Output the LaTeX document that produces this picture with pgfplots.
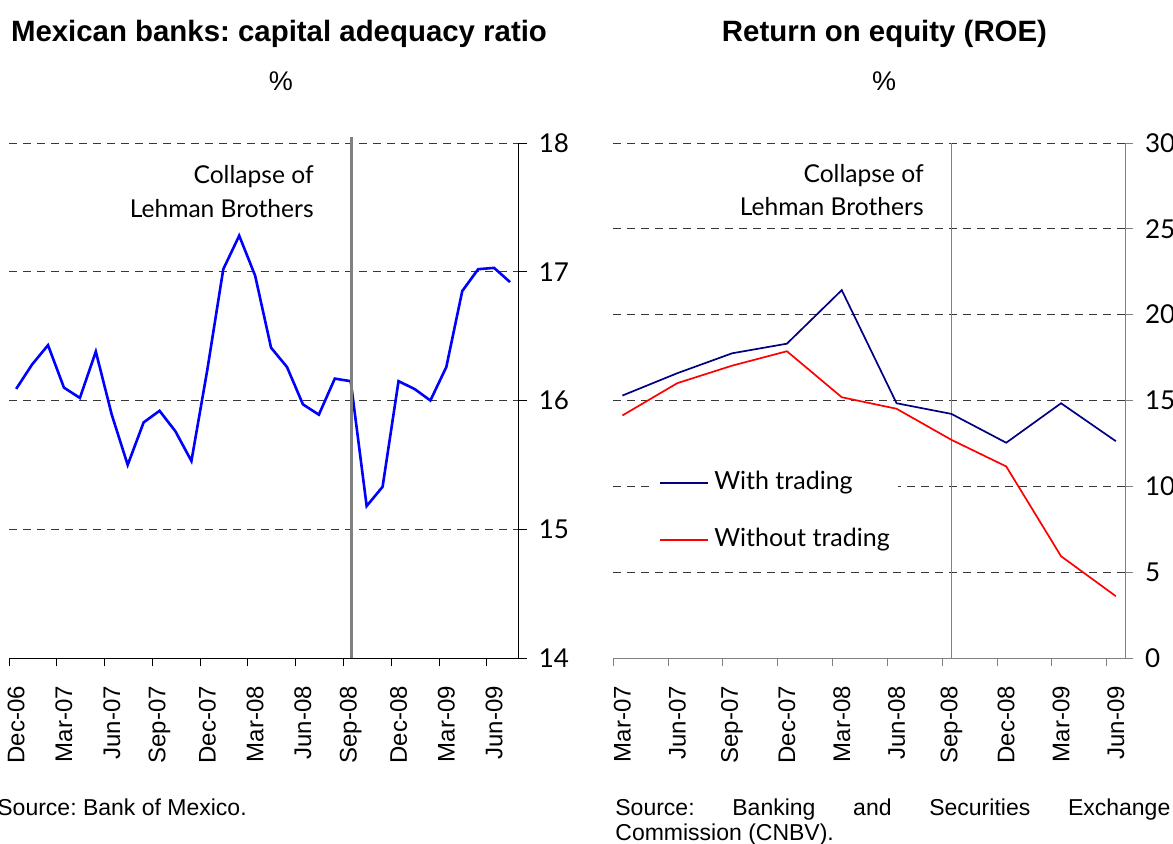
\documentclass[border=0pt]{standalone}
\usepackage{fontspec}
\setmainfont{Liberation Sans}
\newfontfamily\lato{Lato}
\usepackage{pgfplots}
\pgfplotsset{compat=1.18}
\frenchspacing

\definecolor{gridgray}{HTML}{383838}
\definecolor{vgray}{HTML}{808080}
\definecolor{navy}{HTML}{000080}

\pgfplotsset{
  panel/.style={
    scale only axis,
    height=257.5pt,
    ymajorgrids,
    grid style={draw=gridgray, line width=0.5pt, dash pattern=on 4pt off 3pt},
    axis x line*=bottom,
    axis y line*=right,
    tick align=outside,
    major tick length=4pt,
    xticklabels={},
    extra x tick style={grid=none, major tick length=0pt,
      xticklabel shift=10.5pt,
      xticklabel style={rotate=90, anchor=east, font=\fontsize{12}{12}\selectfont}},
    extra y tick style={grid=none},
    yticklabel style={font=\lato\fontsize{13}{13}\selectfont, xshift=2.5pt},
    clip=false,
  },
}

\begin{document}
\begin{tikzpicture}
\useasboundingbox (0,0) rectangle (586.5pt,421.5pt);

%% ---------- left panel: capital adequacy ----------
\begin{axis}[
  panel,
  at={(4.5pt,92.5pt)}, anchor=south west,
  width=254.9pt,
  xmin=0, xmax=32,
  ymin=14, ymax=18,
  ytick={15,16,17,18},
  yticklabels={15,16,17,18},
  extra y ticks={14},
  extra y tick labels={14},
  xtick={0,3,...,30},
  extra x ticks={0.45,3.45,...,30.45},
  extra x tick labels={Dec-06,Mar-07,Jun-07,Sep-07,Dec-07,Mar-08,Jun-08,Sep-08,Dec-08,Mar-09,Jun-09},
  axis line style={draw=black, line width=0.5pt},
  tick style={draw=black, line width=0.5pt},
]
\addplot[blue, line width=1.3pt] coordinates {
  (0.45,16.09) (1.45,16.28) (2.45,16.43) (3.45,16.10) (4.45,16.02)
  (5.45,16.38) (6.45,15.89) (7.45,15.50) (8.45,15.83) (9.45,15.92)
  (10.45,15.76) (11.45,15.53) (12.45,16.24) (13.45,17.02) (14.45,17.28)
  (15.45,16.97) (16.45,16.41) (17.45,16.26) (18.45,15.97) (19.45,15.89)
  (20.45,16.17) (21.45,16.15) (22.45,15.18) (23.45,15.33) (24.45,16.15)
  (25.45,16.09) (26.45,16.00) (27.45,16.26) (28.45,16.85) (29.45,17.02)
  (30.45,17.03) (31.45,16.92)
};
% collapse of Lehman Brothers
\addplot[vgray, line width=1.5pt] coordinates {(21.5,14) (21.5,18.05)};
\end{axis}

%% ---------- right panel: ROE ----------
\begin{axis}[
  panel,
  at={(306.65pt,92.5pt)}, anchor=south west,
  width=255.85pt,
  xmin=0, xmax=28,
  ymin=0, ymax=30,
  ytick={5,10,15,20,25,30},
  yticklabels={5,10,15,20,25,30},
  extra y ticks={0},
  extra y tick labels={0},
  xtick={0,3,...,27},
  extra x ticks={0.5,3.5,...,27.5},
  extra x tick labels={Mar-07,Jun-07,Sep-07,Dec-07,Mar-08,Jun-08,Sep-08,Dec-08,Mar-09,Jun-09},
  axis line style={draw=vgray, line width=0.5pt},
  tick style={draw=vgray, line width=0.5pt},
  legend style={
    at={(axis description cs:0.078,0.378)}, anchor=north west,
    draw=none, fill=white, inner sep=3pt,
    row sep=15pt,
    nodes={inner sep=1pt, text height=9pt, text depth=2.5pt, font=\lato\fontsize{12.5}{12.5}\selectfont},
    /tikz/every odd column/.append style={column sep=1.5pt},
  },
  legend cell align=left,
  legend image code/.code={\draw[#1] (0pt,0pt) -- (24pt,0pt);},
]
\addplot[vgray, line width=0.8pt, forget plot] coordinates {(18.5,0) (18.5,30)};
\addplot[navy, line width=0.85pt] coordinates {
  (0.5,15.29) (3.5,16.59) (6.5,17.75) (9.5,18.31) (12.5,21.43)
  (15.5,14.84) (18.5,14.22) (21.5,12.54) (24.5,14.84) (27.5,12.63)
};
\addlegendentry{With trading}
\addplot[red, line width=0.85pt] coordinates {
  (0.5,14.13) (3.5,16.01) (6.5,17.03) (9.5,17.87) (12.5,15.19)
  (15.5,14.52) (18.5,12.71) (21.5,11.16) (24.5,5.93) (27.5,3.60)
};
\addlegendentry{Without trading}
\end{axis}

%% ---------- titles, notes, sources ----------
\node[anchor=base, font=\bfseries\fontsize{14.7}{14.7}\selectfont] at (139.5pt,400.5pt) {Mexican banks: capital adequacy ratio};
\node[anchor=base, font=\fontsize{13.5}{13.5}\selectfont] at (140.5pt,376.5pt) {\%};
\node[anchor=base, font=\bfseries\fontsize{14.7}{14.7}\selectfont] at (442.25pt,400.5pt) {Return on equity (ROE)};
\node[anchor=base, font=\fontsize{13.5}{13.5}\selectfont] at (442pt,376.5pt) {\%};

\node[anchor=base east, inner sep=0pt, font=\lato\fontsize{12.3}{12.3}\selectfont] at (157pt,330pt) {Collapse of};
\node[anchor=base east, inner sep=0pt, font=\lato\fontsize{12.3}{12.3}\selectfont] at (157pt,313pt) {Lehman Brothers};
\node[anchor=base east, inner sep=0pt, font=\lato\fontsize{12.3}{12.3}\selectfont] at (462pt,330.5pt) {Collapse of};
\node[anchor=base east, inner sep=0pt, font=\lato\fontsize{12.3}{12.3}\selectfont] at (462pt,314pt) {Lehman Brothers};

\node[anchor=base west, inner sep=0pt, font=\fontsize{11.5}{11.5}\selectfont] at (-1.5pt,14pt) {Source: Bank of Mexico.};
\node[anchor=base west, inner sep=0pt, font=\fontsize{11.5}{11.5}\selectfont] at (307.5pt,14pt) {\makebox[277.5pt][s]{Source: Banking and Securities Exchange}};
\node[anchor=base west, inner sep=0pt, font=\fontsize{11.5}{11.5}\selectfont] at (307.5pt,1.5pt) {Commission (CNBV).};
\end{tikzpicture}
\end{document}
